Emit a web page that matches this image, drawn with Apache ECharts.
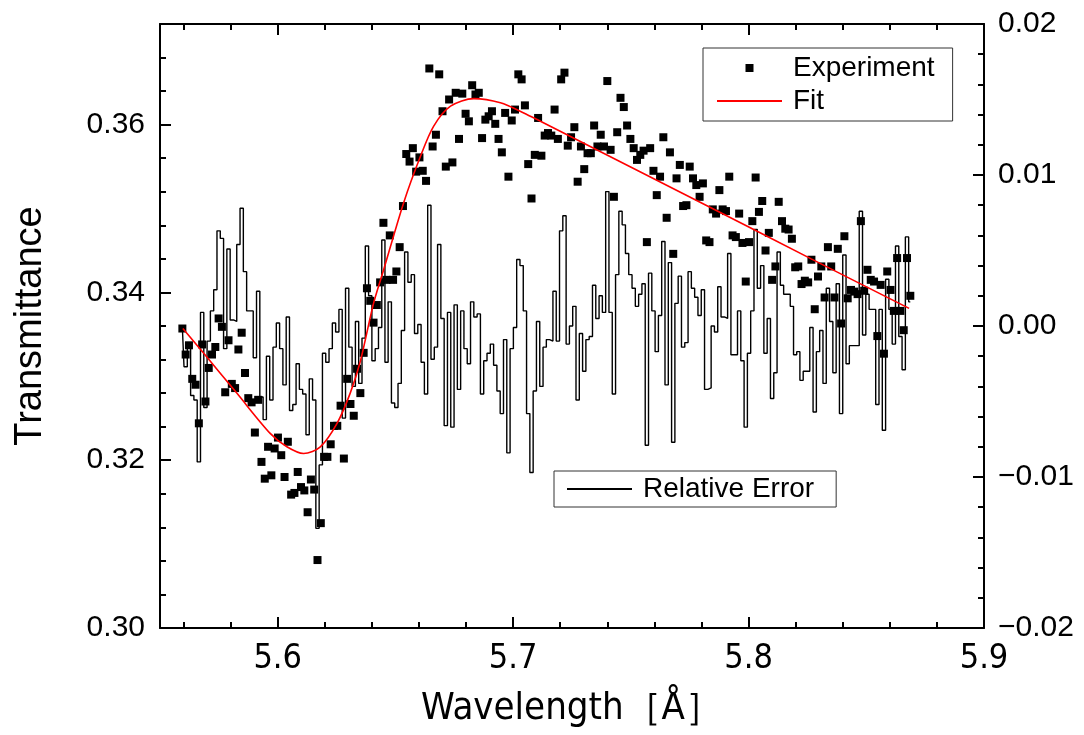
<!DOCTYPE html>
<html><head><meta charset="utf-8">
<script src="https://cdn.jsdelivr.net/npm/echarts@6/dist/echarts.min.js"></script>
<style>html,body{margin:0;padding:0;background:#fff}#c{width:1084px;height:735px}</style>
</head><body><div id="c"></div>
<script>
const wavelength = [5.5595,5.5609,5.5623,5.5637,5.5651,5.5665,5.5679,5.5693,5.5707,5.5721,5.5735,5.5749,5.5763,5.5777,5.5791,5.5805,5.5819,5.5833,5.5847,5.5861,5.5875,5.5889,5.5903,5.5917,5.5931,5.5945,5.5959,5.5973,5.5987,5.6001,5.6015,5.6029,5.6043,5.6057,5.6071,5.6085,5.6099,5.6113,5.6127,5.6141,5.6155,5.6169,5.6183,5.6197,5.6211,5.6225,5.6239,5.6253,5.6267,5.6281,5.6295,5.6309,5.6323,5.6337,5.6351,5.6365,5.6379,5.6393,5.6407,5.6421,5.6435,5.6449,5.6462,5.6476,5.6490,5.6504,5.6518,5.6532,5.6546,5.6560,5.6574,5.6588,5.6602,5.6616,5.6630,5.6644,5.6658,5.6672,5.6686,5.6700,5.6714,5.6728,5.6742,5.6756,5.6770,5.6784,5.6798,5.6812,5.6826,5.6840,5.6854,5.6868,5.6882,5.6896,5.6910,5.6924,5.6938,5.6952,5.6966,5.6980,5.6994,5.7008,5.7022,5.7036,5.7050,5.7064,5.7078,5.7092,5.7106,5.7120,5.7134,5.7148,5.7162,5.7176,5.7190,5.7204,5.7218,5.7232,5.7246,5.7260,5.7274,5.7288,5.7302,5.7316,5.7330,5.7344,5.7358,5.7372,5.7386,5.7400,5.7414,5.7428,5.7442,5.7456,5.7470,5.7484,5.7498,5.7512,5.7526,5.7540,5.7554,5.7568,5.7582,5.7596,5.7610,5.7624,5.7638,5.7652,5.7666,5.7680,5.7694,5.7708,5.7722,5.7736,5.7750,5.7764,5.7778,5.7792,5.7806,5.7820,5.7834,5.7848,5.7862,5.7876,5.7890,5.7904,5.7918,5.7932,5.7946,5.7960,5.7974,5.7988,5.8002,5.8016,5.8030,5.8044,5.8058,5.8072,5.8086,5.8100,5.8114,5.8128,5.8142,5.8156,5.8170,5.8184,5.8198,5.8211,5.8225,5.8239,5.8253,5.8267,5.8281,5.8295,5.8309,5.8323,5.8337,5.8351,5.8365,5.8379,5.8393,5.8407,5.8421,5.8435,5.8449,5.8463,5.8477,5.8491,5.8505,5.8519,5.8533,5.8547,5.8561,5.8575,5.8589,5.8603,5.8617,5.8631,5.8645,5.8659,5.8673,5.8687];
const experiment = [0.3357,0.3326,0.3337,0.3297,0.3290,0.3244,0.3338,0.3270,0.3310,0.3326,0.3335,0.3369,0.3359,0.3281,0.3343,0.3291,0.3286,0.3332,0.3352,0.3304,0.3274,0.3269,0.3233,0.3272,0.3198,0.3178,0.3216,0.3182,0.3214,0.3227,0.3206,0.3180,0.3222,0.3159,0.3161,0.3186,0.3168,0.3164,0.3138,0.3177,0.3165,0.3081,0.3125,0.3204,0.3204,0.3219,0.3241,0.3241,0.3265,0.3202,0.3297,0.3267,0.3253,0.3309,0.3280,0.3328,0.3405,0.3390,0.3364,0.3385,0.3412,0.3483,0.3415,0.3468,0.3415,0.3425,0.3454,0.3503,0.3565,0.3556,0.3572,0.3544,0.3561,0.3545,0.3533,0.3667,0.3574,0.3588,0.3660,0.3616,0.3550,0.3630,0.3555,0.3638,0.3583,0.3637,0.3613,0.3604,0.3647,0.3636,0.3638,0.3584,0.3606,0.3610,0.3616,0.3601,0.3583,0.3567,0.3614,0.3538,0.3605,0.3618,0.3660,0.3654,0.3623,0.3553,0.3512,0.3564,0.3608,0.3563,0.3587,0.3590,0.3587,0.3618,0.3583,0.3654,0.3662,0.3575,0.3585,0.3597,0.3532,0.3574,0.3547,0.3566,0.3566,0.3599,0.3574,0.3588,0.3574,0.3652,0.3570,0.3514,0.3591,0.3632,0.3621,0.3599,0.3583,0.3572,0.3558,0.3564,0.3569,0.3460,0.3572,0.3545,0.3516,0.3538,0.3585,0.3489,0.3567,0.3446,0.3536,0.3552,0.3503,0.3504,0.3550,0.3536,0.3528,0.3514,0.3530,0.3462,0.3460,0.3499,0.3494,0.3522,0.3499,0.3497,0.3538,0.3468,0.3466,0.3494,0.3459,0.3413,0.3460,0.3485,0.3537,0.3496,0.3509,0.3450,0.3471,0.3415,0.3431,0.3508,0.3485,0.3476,0.3475,0.3464,0.3430,0.3431,0.3410,0.3414,0.3412,0.3439,0.3380,0.3419,0.3431,0.3394,0.3454,0.3431,0.3394,0.3452,0.3363,0.3467,0.3393,0.3403,0.3401,0.3398,0.3485,0.3402,0.3427,0.3415,0.3413,0.3348,0.3409,0.3327,0.3425,0.3403,0.3378,0.3441,0.3378,0.3355,0.3441,0.3396];
const relError = [-0.0001,-0.0027,-0.0011,-0.0046,-0.0049,-0.0090,0.0009,-0.0054,-0.0010,0.0010,0.0024,0.0063,0.0058,-0.0015,0.0051,0.0004,0.0003,0.0054,0.0078,0.0036,0.0010,0.0010,-0.0021,0.0023,-0.0047,-0.0062,-0.0020,-0.0049,-0.0014,0.0002,-0.0015,-0.0039,0.0006,-0.0056,-0.0052,-0.0025,-0.0042,-0.0045,-0.0072,-0.0035,-0.0049,-0.0134,-0.0092,-0.0018,-0.0024,-0.0015,0.0002,-0.0004,0.0011,-0.0061,0.0025,-0.0014,-0.0040,0.0003,-0.0038,-0.0008,0.0053,0.0020,-0.0023,-0.0015,-0.0001,0.0057,-0.0024,0.0016,-0.0051,-0.0054,-0.0038,-0.0003,0.0049,0.0029,0.0034,-0.0005,0.0001,-0.0024,-0.0045,0.0080,-0.0022,-0.0014,0.0054,0.0005,-0.0066,0.0009,-0.0067,0.0014,-0.0042,0.0010,-0.0015,-0.0025,0.0016,0.0006,0.0008,-0.0045,-0.0023,-0.0018,-0.0012,-0.0026,-0.0043,-0.0058,-0.0009,-0.0084,-0.0015,-0.0001,0.0044,0.0040,0.0010,-0.0058,-0.0097,-0.0043,0.0003,-0.0040,-0.0014,-0.0009,-0.0010,0.0023,-0.0010,0.0063,0.0073,-0.0012,0.0000,0.0013,-0.0049,-0.0005,-0.0030,-0.0009,-0.0007,0.0027,0.0005,0.0020,0.0009,0.0089,0.0009,-0.0045,0.0034,0.0076,0.0067,0.0048,0.0034,0.0025,0.0013,0.0021,0.0028,-0.0079,0.0035,0.0010,-0.0017,0.0007,0.0056,-0.0039,0.0042,-0.0077,0.0015,0.0033,-0.0014,-0.0011,0.0036,0.0025,0.0019,0.0007,0.0024,-0.0042,-0.0041,0.0000,-0.0004,0.0026,0.0006,0.0005,0.0048,-0.0019,-0.0019,0.0010,-0.0023,-0.0067,-0.0018,0.0010,0.0064,0.0025,0.0040,-0.0018,0.0005,-0.0048,-0.0031,0.0049,0.0027,0.0021,0.0021,0.0013,-0.0019,-0.0017,-0.0036,-0.0030,-0.0030,-0.0001,-0.0057,-0.0017,-0.0003,-0.0038,0.0025,0.0003,-0.0031,0.0028,-0.0058,0.0047,-0.0025,-0.0013,-0.0013,-0.0013,0.0076,-0.0006,0.0021,0.0011,0.0011,-0.0052,0.0011,-0.0069,0.0031,0.0011,-0.0012,0.0053,-0.0007,-0.0029,0.0059,0.0016];
const fitWavelength = [5.5597,5.5684,5.5826,5.5968,5.6039,5.6110,5.6181,5.6252,5.6308,5.6351,5.6407,5.6450,5.6535,5.6606,5.6662,5.6734,5.6833,5.6946,5.7045,5.7116,5.7882,5.8266,5.8682];
const fitValue = [0.3357,0.3328,0.3280,0.3232,0.3216,0.3208,0.3216,0.3244,0.3280,0.3318,0.3387,0.3427,0.3507,0.3562,0.3598,0.3622,0.3631,0.3626,0.3614,0.3604,0.3495,0.3440,0.3381];
const xMajorTicks = [5.6, 5.7, 5.8, 5.9];
const xMinorTicks = [5.56, 5.58, 5.62, 5.64, 5.66, 5.68, 5.72, 5.74, 5.76, 5.78, 5.82, 5.84, 5.86, 5.88];
const yLeftMajorTicks = [0.30, 0.32, 0.34, 0.36];
const yLeftMinorTicks = [0.304, 0.308, 0.312, 0.316, 0.324, 0.328, 0.332, 0.336, 0.344, 0.348, 0.352, 0.356, 0.364, 0.368];
const yRightMajorTicks = [-0.02, -0.01, 0, 0.01, 0.02];
const yRightMinorTicks = [-0.018, -0.016, -0.014, -0.012, -0.008, -0.006, -0.004, -0.002, 0.002, 0.004, 0.006, 0.008, 0.012, 0.014, 0.016, 0.018];

const F = "'Liberation Sans', Arial, sans-serif";
const FN = "'Liberation Sans Narrow', 'Arial Narrow', 'DejaVu Sans Condensed', sans-serif";
const chart = echarts.init(document.getElementById('c'), null, {renderer: 'canvas'});

function tickAxis(extra, vals, len, showLine) {
  return Object.assign({
    type: 'value',
    axisLine: {show: showLine, onZero: false, lineStyle: {color: '#000', width: 2}},
    axisTick: {show: true, inside: true, length: len, customValues: vals, lineStyle: {color: '#000', width: 2}},
    axisLabel: {show: false},
    splitLine: {show: false},
    minorTick: {show: false}
  }, extra);
}

const xr = {min: 5.55, max: 5.9};
const xAxes = [
  tickAxis(Object.assign({position: 'bottom',
    axisLabel: {show: true, customValues: xMajorTicks, formatter: v => v.toFixed(1), margin: 14, fontSize: 34, color: '#000', fontFamily: FN},
    name: 'Wavelength［Å］', nameLocation: 'middle', nameGap: 62,
    nameTextStyle: {fontSize: 38, color: '#000', fontFamily: FN}}, xr), xMajorTicks, 11, true),
  tickAxis(Object.assign({position: 'bottom'}, xr), xMinorTicks, 6, false),
  tickAxis(Object.assign({position: 'top'}, xr), xMajorTicks, 11, true),
  tickAxis(Object.assign({position: 'top'}, xr), xMinorTicks, 6, false)
];
const yl = {min: 0.30, max: 0.372};
const yr = {min: -0.02, max: 0.02};
const yAxes = [
  tickAxis(Object.assign({position: 'left',
    axisLabel: {show: true, customValues: yLeftMajorTicks, formatter: v => v.toFixed(2), margin: 15, fontSize: 30, color: '#000', fontFamily: F},
    name: 'Transmittance', nameLocation: 'middle', nameGap: 110,
    nameTextStyle: {fontSize: 38, color: '#000', fontFamily: F}}, yl), yLeftMajorTicks, 11, true),
  tickAxis(Object.assign({position: 'left'}, yl), yLeftMinorTicks, 6, false),
  tickAxis(Object.assign({position: 'right',
    axisLabel: {show: true, customValues: yRightMajorTicks, margin: 14, fontSize: 30, color: '#000', fontFamily: F,
      formatter: v => (v < -1e-9 ? '\u2212' : '') + Math.abs(v).toFixed(2)}}, yr), yRightMajorTicks, 11, true),
  tickAxis(Object.assign({position: 'right'}, yr), yRightMinorTicks, 6, false)
];

const legendText = {fontSize: 28, color: '#000', fontFamily: F, lineHeight: 30};
chart.setOption({
  animation: false,
  backgroundColor: '#fff',
  grid: {left: 160, right: 100, top: 24, bottom: 107, containLabel: false, outerBoundsMode: 'none'},
  xAxis: xAxes,
  yAxis: yAxes,
  legend: [
    {orient: 'vertical', left: 703, top: 48, padding: [5, 18, 5, 14], itemGap: 3, itemWidth: 71, itemHeight: 14,
      borderColor: '#333', borderWidth: 1, backgroundColor: '#fff', selectedMode: false, textStyle: legendText,
      itemStyle: {borderWidth: 0, opacity: 1},
      data: [
        {name: 'Experiment', icon: 'path://M0,0M71,14M28.5,3h8v8h-8z'},
        {name: 'Fit', icon: 'path://M0,0M71,14M0,6h65v2h-65z'}
      ]},
    {orient: 'vertical', left: 554, top: 471, padding: [3, 22, 3, 13], itemWidth: 71, itemHeight: 14,
      borderColor: '#333', borderWidth: 1, backgroundColor: '#fff', selectedMode: false, textStyle: legendText,
      itemStyle: {borderWidth: 0, opacity: 1},
      data: [{name: 'Relative Error', icon: 'path://M0,0M71,14M0,6h65v2h-65z'}]}
  ],
  series: [
    {name: 'Relative Error', type: 'line', step: 'middle', xAxisIndex: 0, yAxisIndex: 2,
      data: wavelength.map((x, i) => [x, relError[i]]), showSymbol: false, symbol: 'none',
      color: '#000', lineStyle: {color: '#000', width: 1.4}, z: 2},
    {name: 'Experiment', type: 'scatter', xAxisIndex: 0, yAxisIndex: 0,
      data: wavelength.map((x, i) => [x, experiment[i]]), symbol: 'rect', symbolSize: 8,
      color: '#000', itemStyle: {color: '#000', opacity: 1}, z: 3},
    {name: 'Fit', type: 'line', xAxisIndex: 0, yAxisIndex: 0, smooth: 0.3,
      data: fitWavelength.map((x, i) => [x, fitValue[i]]), showSymbol: false, symbol: 'none',
      color: '#ff0000', lineStyle: {color: '#ff0000', width: 1.6}, z: 4}
  ]
});
</script></body></html>
